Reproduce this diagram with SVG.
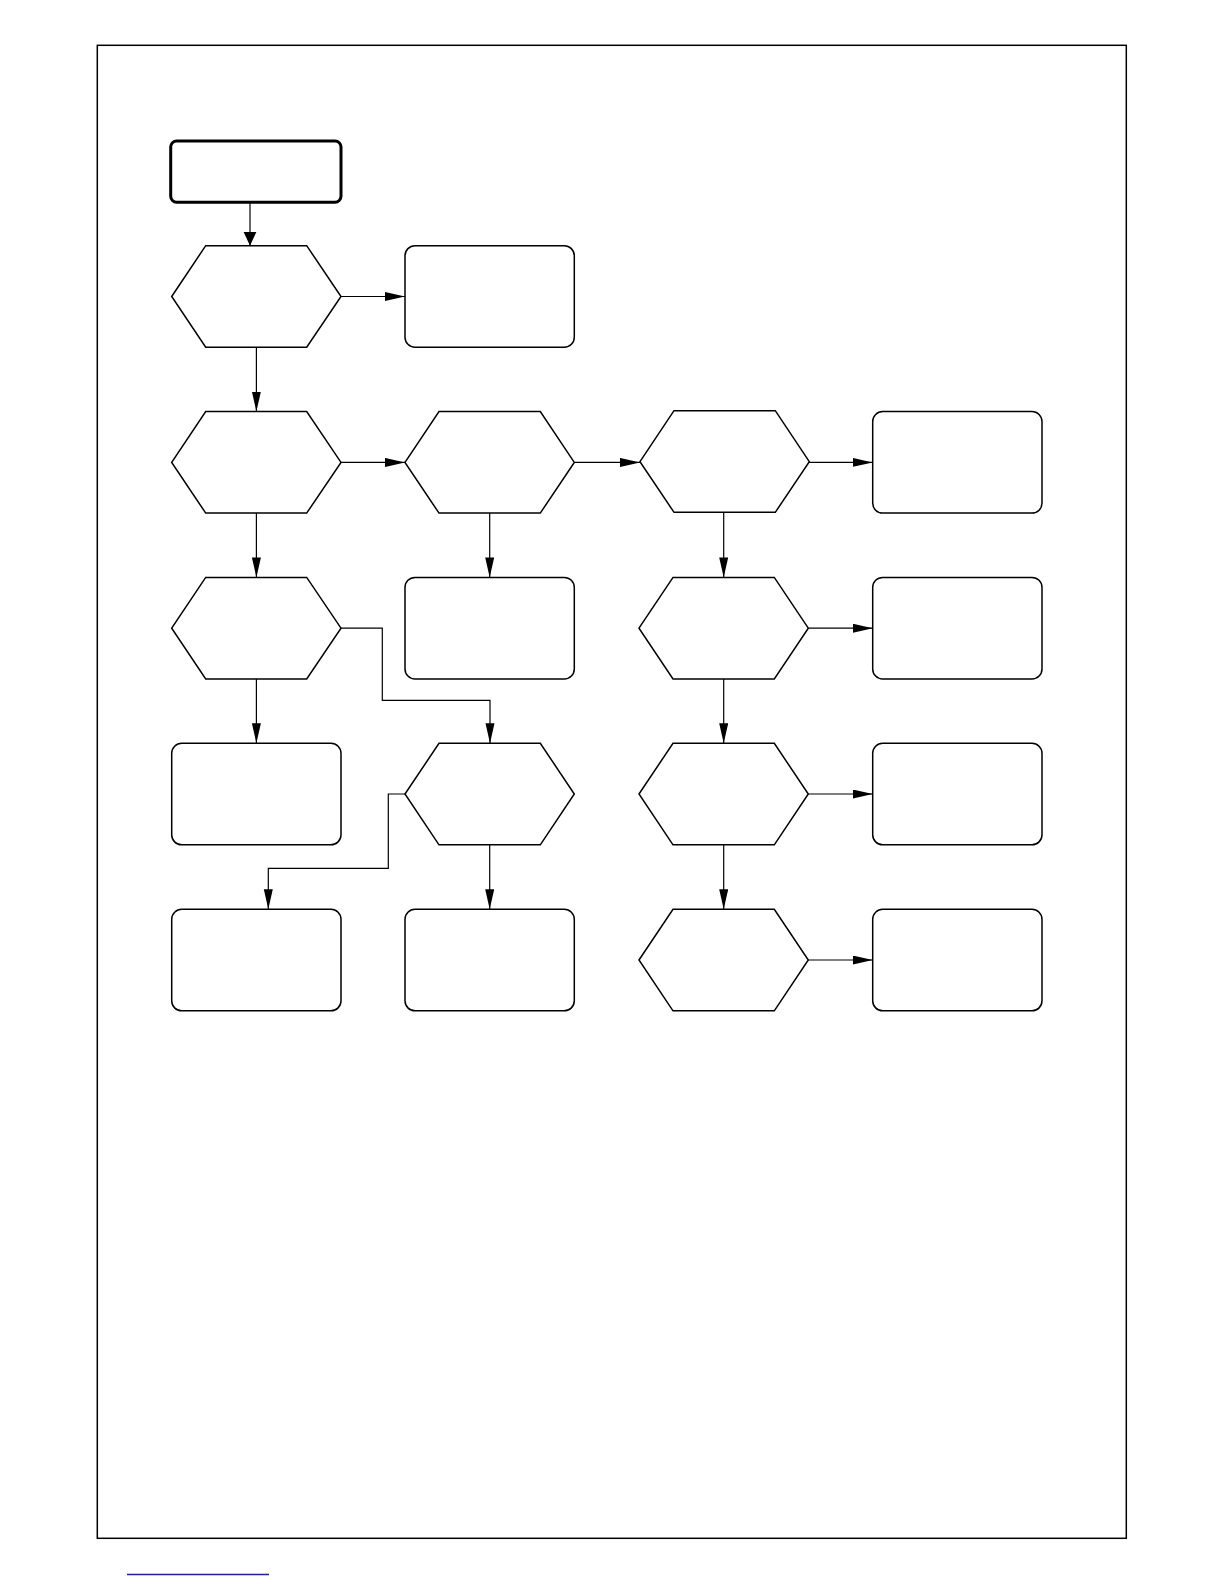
<svg xmlns="http://www.w3.org/2000/svg" width="1224" height="1584" viewBox="0 0 1224 1584">
<style>
.frame{fill:none;stroke:#000;stroke-width:1.5}
.start{fill:#fff;stroke:#000;stroke-width:3}
.box{fill:#fff;stroke:#000;stroke-width:1.5}
.hex{fill:#fff;stroke:#000;stroke-width:1.5;stroke-linejoin:miter}
.conn{fill:none;stroke:#000;stroke-width:1.2}
</style>
<defs>
<marker id="arr" markerUnits="userSpaceOnUse" markerWidth="21" markerHeight="10" refX="20" refY="4.5" orient="auto">
<path d="M0,0 L20,4.5 L0,9 z" fill="#000"/>
</marker>
<marker id="arrw" markerUnits="userSpaceOnUse" markerWidth="15" markerHeight="14" refX="14" refY="6.5" orient="auto">
<path d="M0,0 L14,6.5 L0,13 z" fill="#000"/>
</marker>
</defs>
<rect width="1224" height="1584" fill="#fff"/>
<rect class="frame" x="97.3" y="45.3" width="1029" height="1493"/>
<line x1="127" y1="1574.5" x2="269" y2="1574.5" stroke="#1f1f99" stroke-width="1.3"/>

<g id="start"><rect class="start" x="170.7" y="141" width="170.3" height="61.3" rx="6"/></g>

<g id="hex1"><polygon class="hex" points="171.7,296.5 205.7,245.7 306.7,245.7 341,296.5 306.7,347.2 205.7,347.2"/></g>
<g id="box1"><rect class="box" x="405" y="245.7" width="169.3" height="101.5" rx="10"/></g>

<g id="hex2"><polygon class="hex" points="171.7,462.4 205.7,411.6 306.7,411.6 341,462.4 306.7,513.1 205.7,513.1"/></g>
<g id="hex3"><polygon class="hex" points="405,462.4 439,411.6 540.3,411.6 574.3,462.4 540.3,513.1 439,513.1"/></g>
<g id="hex4"><polygon class="hex" points="640,461.7 674,410.7 775.3,410.7 809.3,461.7 775.3,512.3 674,512.3"/></g>
<g id="box2"><rect class="box" x="872.7" y="411.6" width="169.3" height="101.5" rx="10"/></g>

<g id="hex5"><polygon class="hex" points="171.7,628.2 205.7,577.4 306.7,577.4 341,628.2 306.7,679 205.7,679"/></g>
<g id="box3"><rect class="box" x="405" y="577.4" width="169.3" height="101.5" rx="10"/></g>
<g id="hex6"><polygon class="hex" points="639,628.2 673,577.4 774.3,577.4 808.3,628.2 774.3,679 673,679"/></g>
<g id="box4"><rect class="box" x="872.7" y="577.4" width="169.3" height="101.5" rx="10"/></g>

<g id="box5"><rect class="box" x="171.7" y="743.3" width="169.3" height="101.5" rx="10"/></g>
<g id="hex7"><polygon class="hex" points="405,794 439,743.3 540.3,743.3 574.3,794 540.3,844.8 439,844.8"/></g>
<g id="hex8"><polygon class="hex" points="639,794 673,743.3 774.3,743.3 808.3,794 774.3,844.8 673,844.8"/></g>
<g id="box6"><rect class="box" x="872.7" y="743.3" width="169.3" height="101.5" rx="10"/></g>

<g id="box7"><rect class="box" x="171.7" y="909.3" width="169.3" height="101.5" rx="10"/></g>
<g id="box8"><rect class="box" x="405" y="909.3" width="169.3" height="101.5" rx="10"/></g>
<g id="hex9"><polygon class="hex" points="639,960 673,909.3 774.3,909.3 808.3,960 774.3,1010.8 673,1010.8"/></g>
<g id="box9"><rect class="box" x="872.7" y="909.3" width="169.3" height="101.5" rx="10"/></g>

<g id="connectors">
<path class="conn" d="M250,202.5 V245.7" marker-end="url(#arrw)"/>
<path class="conn" d="M341,296.5 H405" marker-end="url(#arr)"/>
<path class="conn" d="M256.4,347.2 V411.6" marker-end="url(#arr)"/>
<path class="conn" d="M341,462.4 H405" marker-end="url(#arr)"/>
<path class="conn" d="M574.3,462.4 H640" marker-end="url(#arr)"/>
<path class="conn" d="M809.3,462.4 H872.7" marker-end="url(#arr)"/>
<path class="conn" d="M256.4,513.1 V577.4" marker-end="url(#arr)"/>
<path class="conn" d="M489.7,513.1 V577.4" marker-end="url(#arr)"/>
<path class="conn" d="M723.7,512.3 V577.4" marker-end="url(#arr)"/>
<path class="conn" d="M808.3,628.2 H872.7" marker-end="url(#arr)"/>
<path class="conn" d="M341,628.2 H382.3 V700.3 H490 V743.3" marker-end="url(#arr)"/>
<path class="conn" d="M256.4,679 V743.3" marker-end="url(#arr)"/>
<path class="conn" d="M405,794 H388.3 V868.3 H268.3 V909.3" marker-end="url(#arr)"/>
<path class="conn" d="M489.7,844.8 V909.3" marker-end="url(#arr)"/>
<path class="conn" d="M723.7,679 V743.3" marker-end="url(#arr)"/>
<path class="conn" d="M808.3,794 H872.7" marker-end="url(#arr)"/>
<path class="conn" d="M723.7,844.8 V909.3" marker-end="url(#arr)"/>
<path class="conn" d="M808.3,960 H872.7" marker-end="url(#arr)"/>
</g>
</svg>
